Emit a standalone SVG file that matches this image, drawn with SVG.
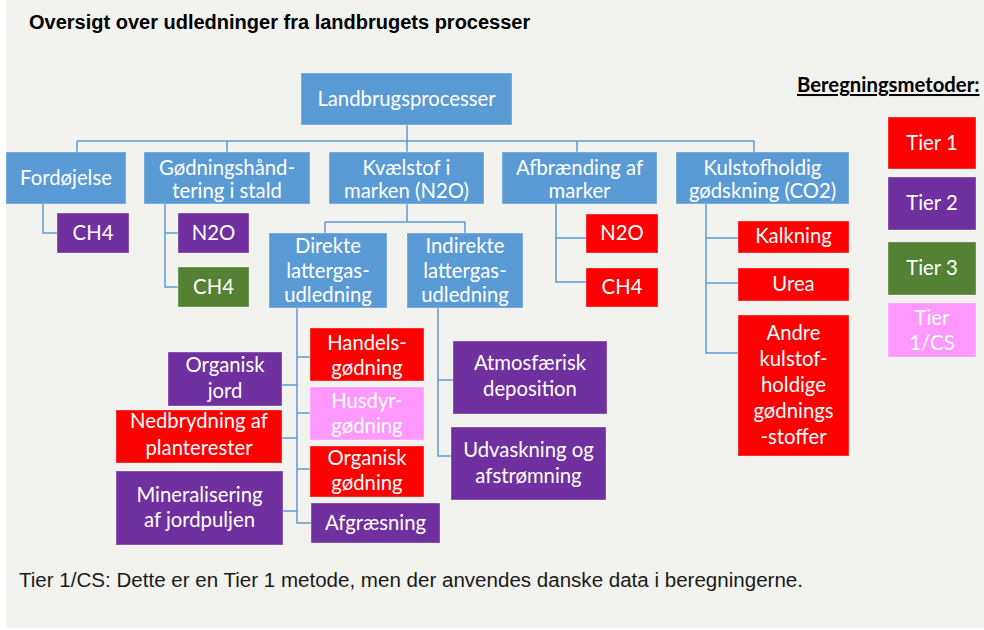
<svg xmlns="http://www.w3.org/2000/svg" width="984" height="630" viewBox="0 0 984 630">
<style>
.bg{fill:#f2f2ee}
.b{fill:#5b9bd5}
.r{fill:#ff0000}
.p{fill:#7030a0}
.g{fill:#548235}
.k{fill:#ff99ff}
rect.n{stroke:#ffffff;stroke-opacity:0.35;stroke-width:1}
text.t{font-family:Lato,"Liberation Sans",sans-serif;font-size:20.3px;fill:#ffffff;text-anchor:middle}
.c{fill:none;stroke:#5b9bd5;stroke-width:1.5}
</style>
<rect x="0" y="0" width="984" height="630" fill="#ffffff"/>
<rect class="bg" x="6" y="0" width="978" height="628"/>
<text x="29" y="29" font-family="'Liberation Sans',Arial,sans-serif" font-weight="bold" font-size="20" fill="#000000">Oversigt over udledninger fra landbrugets processer</text>

<g id="connectors" class="c">
<path d="M407 125V152M77 141H754M77 141V152M227 141V152M577 141V152M754 141V152"/>
<path d="M43 204V233H57"/>
<path d="M165 204V287H178M165 233H178"/>
<path d="M407 204V222M325 222H465M325 222V233M465 222V233"/>
<path d="M556 204V282H586M556 238H586"/>
<path d="M706 204V353H738M706 238H738M706 283H738"/>
<path d="M297 308V523H311M297 357H310M297 413H310M297 469H310M282 385H297M282 438H297M283 511H297"/>
<path d="M438 308V456H451M438 380H453"/>
</g>

<g id="landbrugsprocesser"><rect class="n b" x="301" y="73" width="211" height="52"/><text class="t" x="406.5" y="106">Landbrugsprocesser</text></g>
<g id="fordoejelse"><rect class="n b" x="6" y="152" width="120" height="52"/><text class="t" x="66" y="185">Fordøjelse</text></g>
<g id="goedningshaandtering"><rect class="n b" x="144" y="152" width="166" height="52"/><text class="t" x="227" y="175">Gødningshånd-</text><text class="t" x="227" y="198">tering i stald</text></g>
<g id="kvaelstof"><rect class="n b" x="329" y="152" width="155" height="52"/><text class="t" x="406.5" y="175">Kvælstof i</text><text class="t" x="406.5" y="198">marken (N2O)</text></g>
<g id="afbraending"><rect class="n b" x="502" y="152" width="155" height="52"/><text class="t" x="579.5" y="175">Afbrænding af</text><text class="t" x="579.5" y="198">marker</text></g>
<g id="kulstofholdig"><rect class="n b" x="676" y="152" width="173" height="52"/><text class="t" x="762.5" y="175">Kulstofholdig</text><text class="t" x="762.5" y="198">gødskning (CO2)</text></g>

<g id="ford-ch4"><rect class="n p" x="57" y="213" width="72" height="40"/><text class="t" x="93" y="240">CH4</text></g>
<g id="goed-n2o"><rect class="n p" x="178" y="213" width="71" height="40"/><text class="t" x="213.5" y="240">N2O</text></g>
<g id="goed-ch4"><rect class="n g" x="178" y="267" width="71" height="40"/><text class="t" x="213.5" y="294">CH4</text></g>

<g id="direkte"><rect class="n b" x="269" y="233" width="118" height="75"/><text class="t" x="328" y="253">Direkte</text><text class="t" x="328" y="278">lattergas-</text><text class="t" x="328" y="302">udledning</text></g>
<g id="indirekte"><rect class="n b" x="407" y="233" width="116" height="75"/><text class="t" x="465" y="253">Indirekte</text><text class="t" x="465" y="278">lattergas-</text><text class="t" x="465" y="302">udledning</text></g>

<g id="afbr-n2o"><rect class="n r" x="586" y="214" width="72" height="39"/><text class="t" x="622" y="240">N2O</text></g>
<g id="afbr-ch4"><rect class="n r" x="586" y="268" width="72" height="39"/><text class="t" x="622" y="294">CH4</text></g>

<g id="kalkning"><rect class="n r" x="738" y="221" width="111" height="32"/><text class="t" x="793.5" y="243">Kalkning</text></g>
<g id="urea"><rect class="n r" x="738" y="268" width="111" height="33"/><text class="t" x="793.5" y="291">Urea</text></g>
<g id="andre"><rect class="n r" x="738" y="315" width="111" height="141"/><text class="t" x="793.5" y="340">Andre</text><text class="t" x="793.5" y="366">kulstof-</text><text class="t" x="793.5" y="392">holdige</text><text class="t" x="793.5" y="418">gødnings</text><text class="t" x="793.5" y="444">-stoffer</text></g>

<g id="handelsgoedning"><rect class="n r" x="310" y="328" width="114" height="53"/><text class="t" x="367" y="350">Handels-</text><text class="t" x="367" y="375">gødning</text></g>
<g id="husdyrgoedning"><rect class="n k" x="310" y="387" width="114" height="53"/><text class="t" x="367" y="408">Husdyr-</text><text class="t" x="367" y="433">gødning</text></g>
<g id="organiskgoedning"><rect class="n r" x="310" y="446" width="114" height="51"/><text class="t" x="367" y="465">Organisk</text><text class="t" x="367" y="490">gødning</text></g>
<g id="afgraesning"><rect class="n p" x="311" y="503" width="129" height="40"/><text class="t" x="375.5" y="530">Afgræsning</text></g>

<g id="organiskjord"><rect class="n p" x="168" y="352" width="114" height="54"/><text class="t" x="225" y="372">Organisk</text><text class="t" x="225" y="398">jord</text></g>
<g id="nedbrydning"><rect class="n r" x="116" y="410" width="166" height="53"/><text class="t" x="199" y="428">Nedbrydning af</text><text class="t" x="199" y="455">planterester</text></g>
<g id="mineralisering"><rect class="n p" x="116" y="471" width="167" height="74"/><text class="t" x="199.5" y="502">Mineralisering</text><text class="t" x="199.5" y="527">af jordpuljen</text></g>

<g id="atmosfaerisk"><rect class="n p" x="453" y="341" width="154" height="73"/><text class="t" x="530" y="370">Atmosfærisk</text><text class="t" x="530" y="396">deposition</text></g>
<g id="udvaskning"><rect class="n p" x="451" y="427" width="155" height="73"/><text class="t" x="528.5" y="457">Udvaskning og</text><text class="t" x="528.5" y="483">afstrømning</text></g>

<g id="legend">
<text x="797" y="92" font-family="Lato,'Liberation Sans',sans-serif" font-weight="bold" font-size="20.3" fill="#000000" text-decoration="underline">Beregningsmetoder:</text>
<g id="tier1"><rect class="n r" x="888" y="117" width="88" height="52"/><text class="t" x="932" y="150">Tier 1</text></g>
<g id="tier2"><rect class="n p" x="888" y="177" width="88" height="53"/><text class="t" x="932" y="210">Tier 2</text></g>
<g id="tier3"><rect class="n g" x="888" y="242" width="88" height="53"/><text class="t" x="932" y="275">Tier 3</text></g>
<g id="tier1cs"><rect class="n k" x="888" y="303" width="88" height="54"/><text class="t" x="932" y="325">Tier</text><text class="t" x="932" y="350">1/CS</text></g>
</g>

<text x="19" y="587" font-family="'Liberation Sans',Arial,sans-serif" font-size="20" textLength="784" lengthAdjust="spacingAndGlyphs" fill="#1a1a1a">Tier 1/CS: Dette er en Tier 1 metode, men der anvendes danske data i beregningerne.</text>
</svg>
